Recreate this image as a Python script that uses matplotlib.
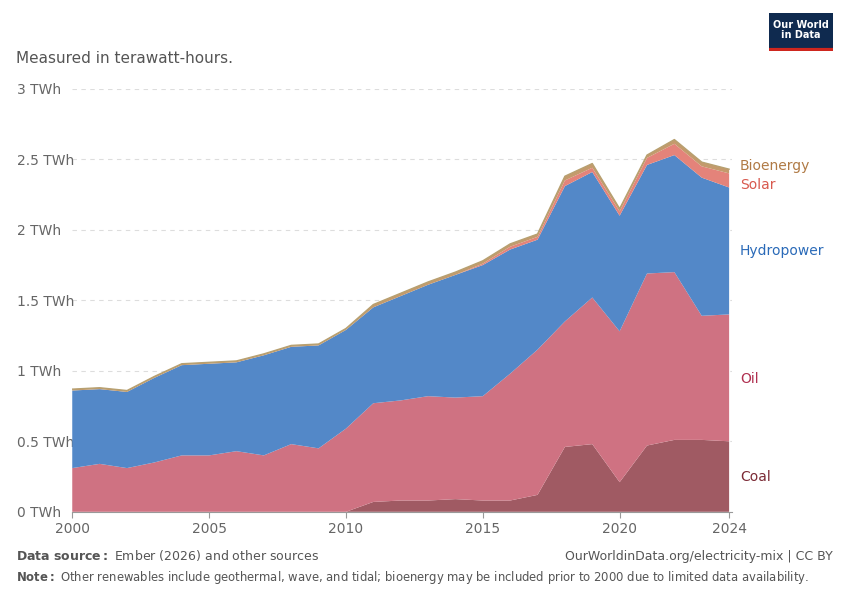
import matplotlib.pyplot as plt
import numpy as np

years = list(range(2000, 2025))
coal = [0, 0, 0, 0, 0, 0, 0, 0, 0, 0, 0, 0.07, 0.08, 0.08, 0.09, 0.08, 0.08, 0.12,
        0.46, 0.48, 0.21, 0.47, 0.51, 0.51, 0.50]
coal_oil = [0.31, 0.34, 0.31, 0.35, 0.40, 0.40, 0.43, 0.40, 0.48, 0.45, 0.59, 0.77, 0.79,
            0.82, 0.81, 0.82, 0.98, 1.15, 1.35, 1.52, 1.28, 1.69, 1.70, 1.39, 1.40]
hydro_top = [0.86, 0.87, 0.85, 0.95, 1.04, 1.05, 1.06, 1.11, 1.17, 1.18, 1.29, 1.45, 1.53,
             1.61, 1.68, 1.75, 1.86, 1.93, 2.31, 2.41, 2.10, 2.46, 2.53, 2.37, 2.30]
solar = [0, 0, 0, 0, 0, 0, 0, 0, 0, 0, 0, 0, 0, 0, 0, 0.01, 0.02, 0.02,
         0.04, 0.03, 0.03, 0.05, 0.08, 0.08, 0.10]
bioenergy = [0.01, 0.01, 0.01, 0.01, 0.01, 0.01, 0.01, 0.01, 0.01, 0.01, 0.01, 0.02, 0.02,
             0.02, 0.02, 0.02, 0.02, 0.02, 0.03, 0.03, 0.02, 0.02, 0.03, 0.03, 0.03]

coal = np.array(coal)
oil = np.array(coal_oil) - coal
hydro = np.array(hydro_top) - np.array(coal_oil)

names = ['Coal', 'Oil', 'Hydropower', 'Solar', 'Bioenergy']
colors = ['#a05a63', '#cf7282', '#5388c8', '#e4837a', '#c49a6c']
label_colors = ['#7b2a35', '#b03050', '#2a6ab8', '#d8594e', '#b07a45']

fig = plt.figure(figsize=(8.5, 6), dpi=100)
ax = fig.add_axes([0.085, 0.147, 0.776, 0.705])
ax.set_axisbelow(True)
ax.stackplot(years, coal, oil, hydro, solar, bioenergy, colors=colors, lw=0, zorder=2)
tops = np.cumsum([coal, oil, hydro, solar, bioenergy], axis=0)
ax.plot(years, tops[-1], color='#b7a070', lw=1, zorder=3)

ax.set_xlim(2000, 2024.1)
ax.set_ylim(0, 3)
ax.set_yticks([0, 0.5, 1, 1.5, 2, 2.5, 3])
ax.set_yticklabels(['0 TWh', '0.5 TWh', '1 TWh', '1.5 TWh', '2 TWh', '2.5 TWh', '3 TWh'])
ax.set_xticks([2000, 2005, 2010, 2015, 2020, 2024])
ax.tick_params(colors='#666666', labelsize=10, length=0)
ax.tick_params(axis='x', length=4, color='#999999')
ax.grid(axis='y', ls=(0, (4, 4)), color='#dddddd', zorder=0)
for s in ['top', 'right', 'left']:
    ax.spines[s].set_visible(False)
ax.spines['bottom'].set_color('#999999')
for lbl in ax.get_yticklabels():
    lbl.set_horizontalalignment('left')
ax.yaxis.set_tick_params(pad=40)

label_y = [0.25, 0.94, 1.85, 2.32, 2.45]
for n, c, y in zip(names, label_colors, label_y):
    ax.text(2024.4, y, n, color=c, fontsize=10, va='center')

fig.text(0.019, 0.067, r'$\bf{Data\ source:}$ Ember (2026) and other sources', fontsize=9, color='#555555')
fig.text(0.019, 0.895, 'Measured in terawatt-hours.', fontsize=11, color='#555555')
fig.text(0.98, 0.067, 'OurWorldinData.org/electricity-mix | CC BY', fontsize=9, color='#555555', ha='right')
fig.text(0.019, 0.032, r'$\bf{Note:}$ Other renewables include geothermal, wave, and tidal; bioenergy may be included prior to 2000 due to limited data availability.',
         fontsize=8.4, color='#555555')

logo = fig.add_axes([0.905, 0.915, 0.075, 0.063])
logo.set_facecolor('#0f2a4f')
logo.set_xticks([]); logo.set_yticks([])
for s in logo.spines.values():
    s.set_visible(False)
logo.axhline(0.02, color='#ce261e', lw=3)
logo.text(0.5, 0.55, 'Our World\nin Data', color='white', fontsize=7, ha='center', va='center',
          fontweight='bold', linespacing=1.0, transform=logo.transAxes)

fig.savefig('out.png', dpi=100)
